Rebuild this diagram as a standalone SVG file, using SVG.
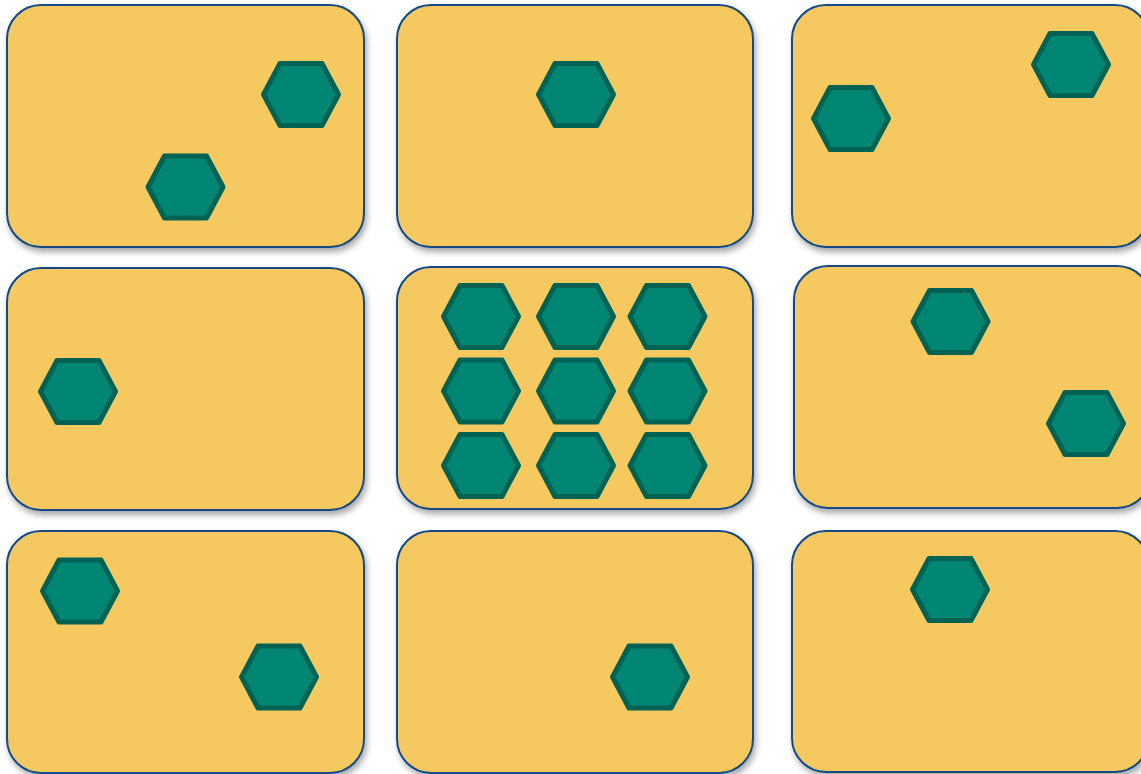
<svg xmlns="http://www.w3.org/2000/svg" xmlns:xlink="http://www.w3.org/1999/xlink" width="1141" height="774" viewBox="0 0 1141 774">
<style>
.box{fill:#F5C95F;stroke:#124A86;stroke-width:2;filter:url(#sh)}
.hex{fill:#008673;stroke:#006253;stroke-width:5;stroke-linejoin:round}
</style>
<defs>
<filter id="sh" x="-10%" y="-10%" width="125%" height="130%">
<feDropShadow dx="2" dy="4" stdDeviation="3" flood-color="#000" flood-opacity="0.35"/>
</filter>
<path id="hx" class="hex" d="M-37.5,0 L-21,-31 L21,-31 L37.5,0 L21,31 L-21,31 Z"/>
</defs>
<rect width="1141" height="774" fill="#fff"/>
<g id="box1"><rect class="box" x="7" y="5" width="357" height="242" rx="34"/>
<use xlink:href="#hx" x="301" y="94.5"/><use xlink:href="#hx" x="185.5" y="187"/></g>
<g id="box2"><rect class="box" x="397" y="5" width="356" height="242" rx="34"/>
<use xlink:href="#hx" x="576" y="94.5"/></g>
<g id="box3"><rect class="box" x="792" y="5" width="357" height="242" rx="34"/>
<use xlink:href="#hx" x="851" y="118.5"/><use xlink:href="#hx" x="1071" y="64.5"/></g>
<g id="box4"><rect class="box" x="7" y="268" width="357" height="242" rx="34"/>
<use xlink:href="#hx" x="78" y="391.5"/></g>
<g id="box5"><rect class="box" x="397" y="267" width="356" height="242" rx="34"/>
<use xlink:href="#hx" x="481" y="316.5"/><use xlink:href="#hx" x="576" y="316.5"/><use xlink:href="#hx" x="667.5" y="316.5"/>
<use xlink:href="#hx" x="481" y="391"/><use xlink:href="#hx" x="576" y="391"/><use xlink:href="#hx" x="667.5" y="391"/>
<use xlink:href="#hx" x="481" y="465.5"/><use xlink:href="#hx" x="576" y="465.5"/><use xlink:href="#hx" x="667.5" y="465.5"/></g>
<g id="box6"><rect class="box" x="794" y="266" width="357" height="242" rx="34"/>
<use xlink:href="#hx" x="950.5" y="321.5"/><use xlink:href="#hx" x="1086" y="423.5"/></g>
<g id="box7"><rect class="box" x="7" y="531" width="357" height="242" rx="34"/>
<use xlink:href="#hx" x="80" y="591"/><use xlink:href="#hx" x="279" y="677"/></g>
<g id="box8"><rect class="box" x="397" y="531" width="356" height="242" rx="34"/>
<use xlink:href="#hx" x="650" y="677"/></g>
<g id="box9"><rect class="box" x="792" y="531" width="357" height="241" rx="34"/>
<use xlink:href="#hx" x="950" y="589.5"/></g>
<g id="connectors"/>
</svg>
